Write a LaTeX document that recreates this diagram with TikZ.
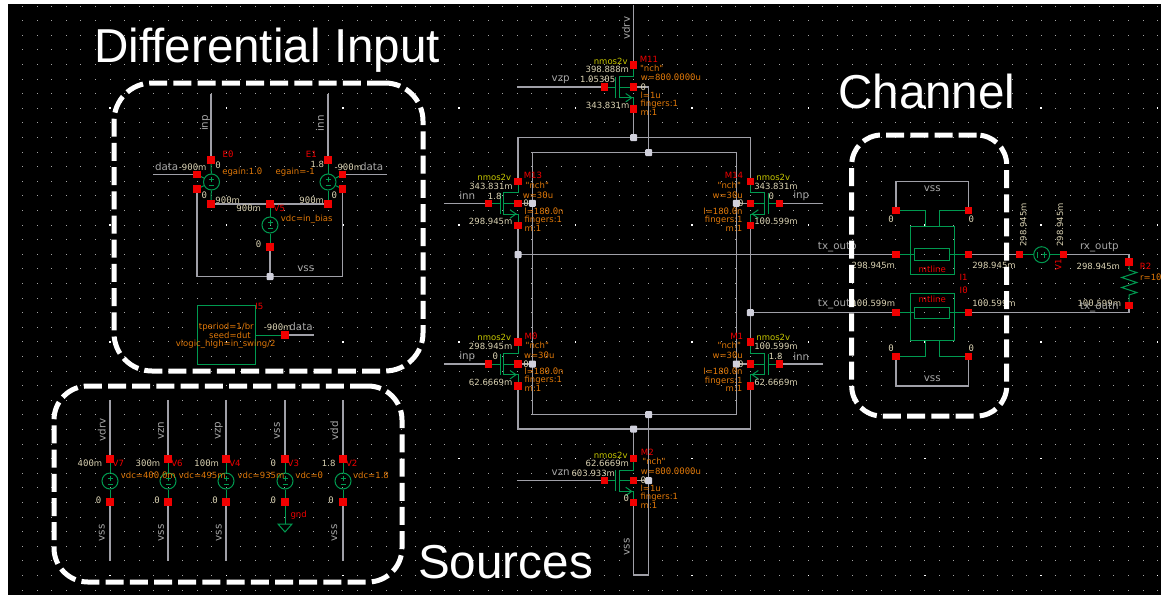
\documentclass[tikz,border=0pt]{standalone}
\usepackage{fontspec}
\setmainfont{Liberation Sans}
\newfontfamily\cadfont{DejaVu Sans}
\newfontfamily\cadzero{DejaVu Sans Mono}
\newcommand\slz{{\cadzero\fontsize{9}{10}\selectfont 0}}
\ExplSyntaxOn
\tl_new:N \l_zfix_tl
\NewDocumentCommand\zfix{m}{
  \tl_set:Nn \l_zfix_tl {#1}
  \tl_replace_all:Nnn \l_zfix_tl {0} {\slz}
  \tl_use:N \l_zfix_tl
}
\ExplSyntaxOff
\pgfdeclarelayer{gridl}
\pgfdeclarelayer{wiresl}
\pgfdeclarelayer{topl}
\pgfsetlayers{gridl,wiresl,main,topl}
\definecolor{wgray}{HTML}{A0A0A8}
\definecolor{cgreen}{HTML}{009A50}
\definecolor{cred}{HTML}{F00000}
\definecolor{corange}{HTML}{E07808}
\definecolor{ccream}{HTML}{DCD4B4}
\definecolor{cyell}{HTML}{C8C800}
\definecolor{cnet}{HTML}{A8A8A8}
\definecolor{cjunc}{HTML}{D0D0DC}
\tikzset{
  wire/.style={draw=wgray,line width=1.1pt},
  gw/.style={draw=cgreen,line width=1pt},
  rpin/.style={fill=cred,draw=none,minimum size=7.2pt,inner sep=0pt,rectangle},
  junc/.style={fill=cjunc,draw=none,minimum size=7pt,inner sep=0pt,rounded corners=1pt,rectangle},
  srcc/.style={draw=cgreen,line width=1pt,circle,minimum size=16pt,inner sep=0pt},
  txt/.style={inner sep=0pt,font=\cadfont\fontsize{8.5}{10}\selectfont},
  par/.style={txt,text=corange},
  vlt/.style={txt,text=ccream},
  ins/.style={txt,text=cred,font=\cadfont\fontsize{8.6}{10}\selectfont},
  cel/.style={txt,text=cyell},
  net/.style={txt,text=cnet,font=\cadfont\fontsize{10.3}{11}\selectfont},
  netr/.style={net,rotate=90},
  vltr/.style={vlt,rotate=90},
  insr/.style={ins,rotate=90},
  dashbox/.style={draw=white,line width=5pt,rectangle,inner sep=0pt,dash pattern=on 18pt off 6.2pt},
  bigt/.style={text=white,inner sep=0pt,anchor=base west,font=\fontsize{47.6}{50}\selectfont},
}
\newcount\lbc
\newcommand\lb[3]{\global\advance\lbc by 1 \node[#1] (t\the\lbc) at (#2) {\zfix{#3}};}
\newcommand\Pn[2]{\node[rpin] (#1) at (#2) {};}
\newcommand\Jn[2]{\node[junc] (#1) at (#2) {};}
% name, bulk x, bulk y, direction of the gate
\newcommand\fet[4]{%
  \node[rpin] (#1d) at ({#2},{#3-22}) {};
  \node[rpin] (#1b) at ({#2},{#3}) {};
  \node[rpin] (#1s) at ({#2},{#3+22}) {};
  \node[rpin] (#1g) at ({#2+#4*29.4},{#3}) {};
  \begin{pgfonlayer}{wiresl}
  \draw[gw] (#1d.center) -- ({#2},{#3-10.7}) -- ({#2+#4*14.5},{#3-10.7}) -- ({#2+#4*14.5},{#3+10.7}) -- ({#2},{#3+10.7}) -- (#1s.center);
  \draw[gw] (#1b.center) -- ({#2+#4*14.5},{#3});
  \draw[gw] (#1g.center) -- ({#2+#4*18},{#3});
  \draw[gw] ({#2+#4*18},{#3-10.5}) -- ({#2+#4*18},{#3+10.5});
  \draw[gw] ({#2+#4*8},{#3+6.5}) -- ({#2+#4*2},{#3+10.7}) -- ({#2+#4*8},{#3+14.9});
  \end{pgfonlayer}}
% name, centre x, centre y, top pin, bottom pin
\newcommand\vsrc[5]{%
  \node[srcc] (#1) at (#2,#3) {};
  \draw[gw,line width=.9pt] ({#2-2.5},{#3-3}) -- ({#2+2.5},{#3-3}) ({#2},{#3-5.5}) -- ({#2},{#3-.5}) ({#2-2.5},{#3+3.5}) -- ({#2+2.5},{#3+3.5});
  \begin{pgfonlayer}{wiresl}
  \draw[gw] (#4.center) -- (#1) (#1) -- (#5.center);
  \end{pgfonlayer}}
\begin{document}
\begin{tikzpicture}[x=1pt,y=-1pt]
\useasboundingbox (0,0) rectangle (1161,595);
\begin{pgfonlayer}{gridl}
\fill[white] (0,0) rectangle (1161,595);
\fill[black] (8,4) rectangle (1161,595);
\foreach \i in {0,...,78} \foreach \j in {0,...,40}
  \fill[gray!70] ({22.7+14.55*\i-.5},{6+14.6*\j-.5}) rectangle +(1,1);
\foreach \i in {6,14,...,78} \foreach \j in {7,15,...,39}
  \fill[white] ({22.7+14.55*\i-.8},{6+14.6*\j-.8}) rectangle +(1.6,1.6);
\end{pgfonlayer}

% ---------- differential input
\Pn{e0t}{211,160}\Pn{e0p}{197,174.5}\Pn{e0n}{197,189}\Pn{e0b}{211,204}
\Pn{e1t}{328,160}\Pn{e1p}{342.7,174.5}\Pn{e1n}{342.7,189}\Pn{e1b}{328,204}
\Pn{v5t}{270,204}\Pn{v5b}{270,247}
\Jn{jvss}{270,276.5}
\vsrc{e0}{211.5}{182}{e0t}{e0b}
\vsrc{e1}{328}{182}{e1t}{e1b}
\vsrc{v5}{270}{225}{v5t}{v5b}
\node[draw=cgreen,line width=1pt,rectangle,minimum width=58.7pt,minimum height=58.3pt,inner sep=0pt] (i5) at (226.4,334.9) {};
\Pn{i5o}{285,335}
\coordinate (inpt) at (211,94);
\coordinate (innt) at (328,94);
\coordinate (dl) at (153,174.5);
\coordinate (dr) at (387,174.5);
\coordinate (di) at (314,335);
\begin{pgfonlayer}{wiresl}
\draw[wire] (inpt) -- (e0t.center);
\draw[wire] (innt) -- (e1t.center);
\draw[wire] (dl) -- (e0p.center);
\draw[wire] (dr) -- (e1p.center);
\draw[wire] (e0b.center) -- (e1b.center);
\draw[wire] (e0n.center) |- (jvss.center) -| (e1n.center);
\draw[wire] (v5b.center) -- (jvss.center);
\draw[wire] (i5o.center) -- (di);
\draw[gw] (i5.east |- i5o) -- (i5o.center);
\draw[gw] (e0p.center) -- (e0) (e0n.center) -- (e0);
\draw[gw] (e1p.center) -- (e1) (e1n.center) -- (e1);
\end{pgfonlayer}
\lb{netr}{205,123}{inp}
\lb{netr}{320,123.3}{inn}
\lb{ins}{228,154}{E0}
\lb{ins}{311.3,154}{E1}
\lb{vlt}{218,165}{0}
\lb{vlt}{317.3,164.3}{1.8}
\lb{net}{166.7,166.7}{data}
\lb{vlt}{192.7,167.3}{-900m}
\lb{vlt}{348.3,167.3}{-900m}
\lb{net}{371.7,166.7}{data}
\lb{par}{242.3,172.3}{egain:1.0}
\lb{par}{295.3,172.3}{egain=-1}
\lb{vlt}{204.3,195.7}{0}
\lb{vlt}{334.3,195.7}{0}
\lb{vlt}{227.7,200.3}{900m}
\lb{vlt}{311.7,200.3}{900m}
\lb{vlt}{248.7,208.3}{900m}
\lb{ins}{279.3,208.3}{V5}
\lb{par}{306.7,219.3}{vdc=in\_bias}
\lb{vlt}{258.7,244.7}{0}
\lb{net}{305.7,268.3}{vss}
\lb{ins}{259.3,306}{I5}
\lb{par}{226.3,326.7}{tperiod=1/br}
\lb{par}{230,335.3}{seed=dut}
\lb{par}{225.7,344}{vlogic\_high=in\_swing/2}
\lb{vlt}{277.7,327.3}{-900m}
\lb{net}{301,326.7}{data}

% ---------- sources
\Pn{v7t}{110,459}\Pn{v7b}{110,502}\vsrc{v7}{110}{481}{v7t}{v7b}
\Pn{v6t}{168,459}\Pn{v6b}{168,502}\vsrc{v6}{168}{481}{v6t}{v6b}
\Pn{v4t}{226,459}\Pn{v4b}{226,502}\vsrc{v4}{226}{481}{v4t}{v4b}
\Pn{v3t}{285,459}\Pn{v3b}{285,502}\vsrc{v3}{285}{481}{v3t}{v3b}
\Pn{v2t}{343,459}\Pn{v2b}{343,502}\vsrc{v2}{343}{481}{v2t}{v2b}
\coordinate (v7u) at (110,400);\coordinate (v7d) at (110,561);
\coordinate (v6u) at (168,400);\coordinate (v6d) at (168,561);
\coordinate (v4u) at (226,400);\coordinate (v4d) at (226,561);
\coordinate (v3u) at (285,400);\coordinate (gndt) at (285,524);
\coordinate (v2u) at (343,400);\coordinate (v2d) at (343,561);
\begin{pgfonlayer}{wiresl}
\foreach \n in {v7,v6,v4,v2} {
  \draw[wire] (\n u) -- (\n t.center);
  \draw[wire] (\n b.center) -- (\n d);
}
\draw[wire] (v3u) -- (v3t.center);
\draw[gw] (v3b.center) -- (gndt);
\draw[gw] (278,524) -- (292,524) -- (285,532) -- cycle;
\end{pgfonlayer}
\lb{netr}{101.7,430}{vdrv}
\lb{netr}{161,430.7}{vzn}
\lb{netr}{218.7,430.7}{vzp}
\lb{netr}{277,430.7}{vss}
\lb{netr}{334.3,430.7}{vdd}
\lb{vlt}{90,463.3}{400m}
\lb{ins}{118.3,463.3}{V7}
\lb{vlt}{148,463.3}{300m}
\lb{ins}{177,463.3}{V6}
\lb{vlt}{206.7,463.3}{100m}
\lb{ins}{235,463.3}{V4}
\lb{vlt}{273.3,463.3}{0}
\lb{ins}{293.3,463.3}{V3}
\lb{vlt}{328.7,463.3}{1.8}
\lb{ins}{351.7,463.3}{V2}
\lb{par}{148.3,475}{vdc=400.0m}
\lb{par}{202.3,475}{vdc=495m}
\lb{par}{261,475}{vdc=935m}
\lb{par}{309.3,475}{vdc=0}
\lb{par}{371,475}{vdc=1.8}
\lb{vlt}{98.7,500}{0}
\lb{vlt}{157,500}{0}
\lb{vlt}{215,500}{0}
\lb{vlt}{273.3,500}{0}
\lb{vlt}{331,500}{0}
\lb{netr}{101.7,532.7}{vss}
\lb{netr}{161,532.7}{vss}
\lb{netr}{218.7,532.7}{vss}
\lb{netr}{334.3,532.7}{vss}
\lb{ins}{298.7,515}{gnd}

% ---------- driver
\fet{m11}{633.7}{87}{-1}
\fet{m13}{518}{203.3}{-1}
\fet{m14}{750.3}{203.3}{1}
\fet{m0}{518}{364}{-1}
\fet{m1}{750.3}{364}{1}
\fet{m2}{633.7}{480.7}{-1}
\Jn{j1}{633.7,137.7}\Jn{j2}{648.7,152.7}
\Jn{j3}{532.3,203.3}\Jn{j4}{736.3,203.3}
\Jn{j5}{518,254.7}\Jn{j6}{750.3,312.7}
\Jn{j7}{532.3,364}\Jn{j8}{736.3,364}
\Jn{j9}{648.7,414.7}\Jn{j10}{633.7,429}\Jn{j11}{648.7,480.7}
\coordinate (vdrvt) at (633.7,5);
\coordinate (vzpl) at (517,87);
\coordinate (inn1) at (444,203.3);
\coordinate (inp1) at (823,203.3);
\coordinate (inp2) at (444,364);
\coordinate (inn2) at (823,364);
\coordinate (vznl) at (517,480.7);
\coordinate (vssc) at (633.7,575);
\begin{pgfonlayer}{wiresl}
\draw[wire] (vdrvt) -- (m11d.center);
\draw[wire] (vzpl) -- (m11g.center);
\draw[wire] (m11s.center) -- (j1.center);
\draw[wire] (m11b.center) -| (j2.center);
\draw[wire] (m13d.center) |- (j1.center) -| (m14d.center);
\draw[wire] (j3.center) |- (j2.center) -| (j4.center);
\draw[wire] (j3.center) -- (j7.center);
\draw[wire] (j4.center) -- (j8.center);
\draw[wire] (j7.center) |- (j9.center) -| (j8.center);
\draw[wire] (m13b.center) -- (j3.center);
\draw[wire] (m14b.center) -- (j4.center);
\draw[wire] (m0b.center) -- (j7.center);
\draw[wire] (m1b.center) -- (j8.center);
\draw[wire] (inn1) -- (m13g.center);
\draw[wire] (inp1) -- (m14g.center);
\draw[wire] (inp2) -- (m0g.center);
\draw[wire] (inn2) -- (m1g.center);
\draw[wire] (m13s.center) -- (j5.center) -- (m0d.center);
\draw[wire] (m14s.center) -- (j6.center) -- (m1d.center);
\draw[wire] (m0s.center) |- (j10.center) -| (m1s.center);
\draw[wire] (j10.center) -- (m2d.center);
\draw[wire] (j9.center) -- (j11.center);
\draw[wire] (m2b.center) -- (j11.center);
\draw[wire] (vznl) -- (m2g.center);
\draw[wire] (j11.center) |- (vssc) -- (m2s.center);
\end{pgfonlayer}
\lb{netr}{626,28.3}{vdrv}
\lb{cel}{610.7,61.3}{nmos2v}
\lb{ins}{649,59}{M11}
\lb{par}{651.7,68.3}{"nch"}
\lb{vlt}{607.3,69.3}{398.888m}
\lb{par}{671,77.7}{w=800.0000u}
\lb{net}{560.7,79.3}{vzp}
\lb{vlt}{597.7,79.3}{1.05305}
\lb{vlt}{643.3,87}{0}
\lb{par}{650.7,95}{l=1u}
\lb{par}{659.3,103.7}{fingers:1}
\lb{vlt}{607.7,105.7}{343.831m}
\lb{par}{649,112}{m:1}
\lb{cel}{494.3,177.7}{nmos2v}
\lb{ins}{533,175.3}{M13}
\lb{vlt}{491,186}{343.831m}
\lb{par}{537.3,185}{"nch"}
\lb{par}{538,195}{w=30u}
\lb{net}{467.3,195.7}{inn}
\lb{vlt}{494.7,196.7}{1.8}
\lb{vlt}{526,203.3}{0}
\lb{par}{544,211}{l=180.0n}
\lb{vlt}{490.7,221.7}{298.945m}
\lb{par}{543.3,220}{fingers:1}
\lb{par}{533,228.7}{m:1}
\lb{ins}{734,175.3}{M14}
\lb{cel}{773.3,177.7}{nmos2v}
\lb{par}{729.3,185}{"nch"}
\lb{vlt}{776,186}{343.831m}
\lb{par}{727.7,195}{w=30u}
\lb{vlt}{771.3,196.7}{0}
\lb{net}{801.3,195.7}{inp}
\lb{vlt}{740.7,203.3}{0}
\lb{par}{723,211}{l=180.0n}
\lb{par}{723.7,220}{fingers:1}
\lb{vlt}{776,221.7}{100.599m}
\lb{par}{734,228.7}{m:1}
\lb{cel}{494.3,337.7}{nmos2v}
\lb{ins}{531,336}{M0}
\lb{vlt}{490.7,346}{298.945m}
\lb{par}{537.3,345}{"nch"}
\lb{par}{539.3,355}{w=30u}
\lb{net}{467.3,356.7}{inp}
\lb{vlt}{495.3,356.7}{0}
\lb{vlt}{526,364}{0}
\lb{par}{544,371.7}{l=180.0n}
\lb{vlt}{490.7,382.3}{62.6669m}
\lb{par}{543.3,380}{fingers:1}
\lb{par}{533,388.3}{m:1}
\lb{ins}{736.7,336}{M1}
\lb{cel}{773.3,337.7}{nmos2v}
\lb{par}{729.3,345}{"nch"}
\lb{vlt}{776,346.7}{100.599m}
\lb{par}{727.7,355}{w=30u}
\lb{vlt}{775.7,356.7}{1.8}
\lb{net}{801.3,356.7}{inn}
\lb{vlt}{740.7,364}{0}
\lb{par}{723,371.7}{l=180.0n}
\lb{par}{723.7,380.7}{fingers:1}
\lb{vlt}{776,382.3}{62.6669m}
\lb{par}{734,388.3}{m:1}
\lb{cel}{610.7,455}{nmos2v}
\lb{ins}{647.3,452.7}{M2}
\lb{vlt}{607.3,463.3}{62.6669m}
\lb{par}{654,461.7}{"nch"}
\lb{par}{671,471.7}{w=800.0000u}
\lb{net}{560.7,473}{vzn}
\lb{vlt}{593.3,473.7}{603.933m}
\lb{vlt}{643.3,480.7}{0}
\lb{par}{650.7,488.3}{l=1u}
\lb{par}{659.3,497}{fingers:1}
\lb{vlt}{626.3,498.7}{0}
\lb{par}{649,505.7}{m:1}
\lb{netr}{626.7,546.7}{vss}

% ---------- channel
\Pn{a1}{896,210.7}\Pn{a2}{968.7,210.7}\Pn{a3}{896,254.7}\Pn{a4}{968.7,254.7}
\Pn{b3}{896,312.7}\Pn{b4}{968.7,312.7}\Pn{b1}{896,356.3}\Pn{b2}{968.7,356.3}
\node[draw=cgreen,line width=1pt,rectangle,minimum width=44pt,minimum height=48pt,inner sep=0pt] (tla) at (932.3,250.3) {};
\node[draw=cgreen,line width=1pt,rectangle,minimum width=35pt,minimum height=12pt,inner sep=0pt] (tlai) at (931.8,254.3) {};
\node[draw=cgreen,line width=1pt,rectangle,minimum width=44pt,minimum height=46.6pt,inner sep=0pt] (tlb) at (932.3,317) {};
\node[draw=cgreen,line width=1pt,rectangle,minimum width=35pt,minimum height=11.7pt,inner sep=0pt] (tlbi) at (931.8,312.85) {};
\Pn{v1l}{1019.7,254.7}\Pn{v1r}{1063.7,254.7}
\node[srcc] (v1) at (1041.7,254.7) {};
\draw[gw,line width=.9pt] (1037.5,252) -- (1037.5,257.5) (1044,252) -- (1044,257.5) (1041.5,254.7) -- (1046.5,254.7);
\Pn{r2t}{1129,262}\Pn{r2b}{1129,305.3}
\coordinate (ca) at (896,181.7);
\coordinate (cb) at (896,386);
\begin{pgfonlayer}{wiresl}
\draw[wire] (j5.center) -- (a3.center);
\draw[wire] (j6.center) -- (b3.center);
\draw[wire] (a1.center) |- (ca) -| (a2.center);
\draw[wire] (b1.center) |- (cb) -| (b2.center);
\draw[wire] (a4.center) -- (v1l.center);
\draw[wire] (v1r.center) -| (r2t.center);
\draw[wire] (b4.center) -| (r2b.center);
\draw[gw] (a3.center) -- (tlai.west |- a3);
\draw[gw] (tlai.east |- a4) -- (a4.center);
\draw[gw] (b3.center) -- (tlbi.west |- b3);
\draw[gw] (tlbi.east |- b4) -- (b4.center);
\draw[gw] (a1.center) -- (925,210.7) -- (925,226.3);
\draw[gw] (a2.center) -- (939.7,210.7) -- (939.7,226.3);
\draw[gw] (b1.center) -- (925,356.3) -- (925,340.3);
\draw[gw] (b2.center) -- (939.7,356.3) -- (939.7,340.3);
\draw[gw] (v1l.center) -- (v1) (v1) -- (v1r.center);
\draw[gw] (r2t.center) -- (1129,270) -- (1136.7,272.5) -- (1121.7,277.5) -- (1136.7,282.5) -- (1121.7,287.5) -- (1136.7,292.5) -- (1129,295) -- (r2b.center);
\end{pgfonlayer}
\lb{net}{837.3,246.7}{tx\_outp}
\lb{net}{837.3,304}{tx\_outn}
\lb{net}{932.3,188.3}{vss}
\lb{vlt}{891,219.3}{0}
\lb{vlt}{971.3,219.3}{0}
\lb{vltr}{1023.3,225}{298.945m}
\lb{vltr}{1060,225}{298.945m}
\lb{net}{1099.3,246.7}{rx\_outp}
\lb{vlt}{873.3,265}{298.945m}
\lb{vlt}{994,265}{298.945m}
\lb{ins}{932.3,269}{mtline}
\lb{insr}{1058.3,265}{V1}
\lb{vlt}{1098.3,266.7}{298.945m}
\lb{ins}{1145.7,266.7}{R2}
\lb{par,anchor=west}{1140,277.7}{r=10}
\lb{ins}{963.7,277.7}{I1}
\lb{ins}{963.7,290}{I0}
\lb{ins}{932.3,299.3}{mtline}
\lb{vlt}{873.3,303.3}{100.599m}
\lb{vlt}{994,303.3}{100.599m}
\lb{vlt}{1099.3,303.3}{100.599m}
\lb{net}{1099.3,306.7}{tx\_outn}
\lb{vlt}{891,348.3}{0}
\lb{vlt}{971.3,348.3}{0}
\lb{net}{932.3,378.3}{vss}

% ---------- annotations
\begin{pgfonlayer}{topl}
\node[dashbox,rounded corners=38pt,minimum width=309pt,minimum height=288pt] (boxdiff) at (268.5,227) {};
\node[dashbox,rounded corners=34pt,minimum width=348pt,minimum height=196pt] (boxsrc) at (228,484) {};
\node[dashbox,rounded corners=30pt,minimum width=155pt,minimum height=281pt] (boxch) at (929.2,275.5) {};
\node[bigt] (ttldiff) at (94,62) {Differential Input};
\node[bigt] (ttlch) at (838,108) {Channel};
\node[bigt] (ttlsrc) at (418,578) {Sources};
\end{pgfonlayer}
\end{tikzpicture}
\end{document}
